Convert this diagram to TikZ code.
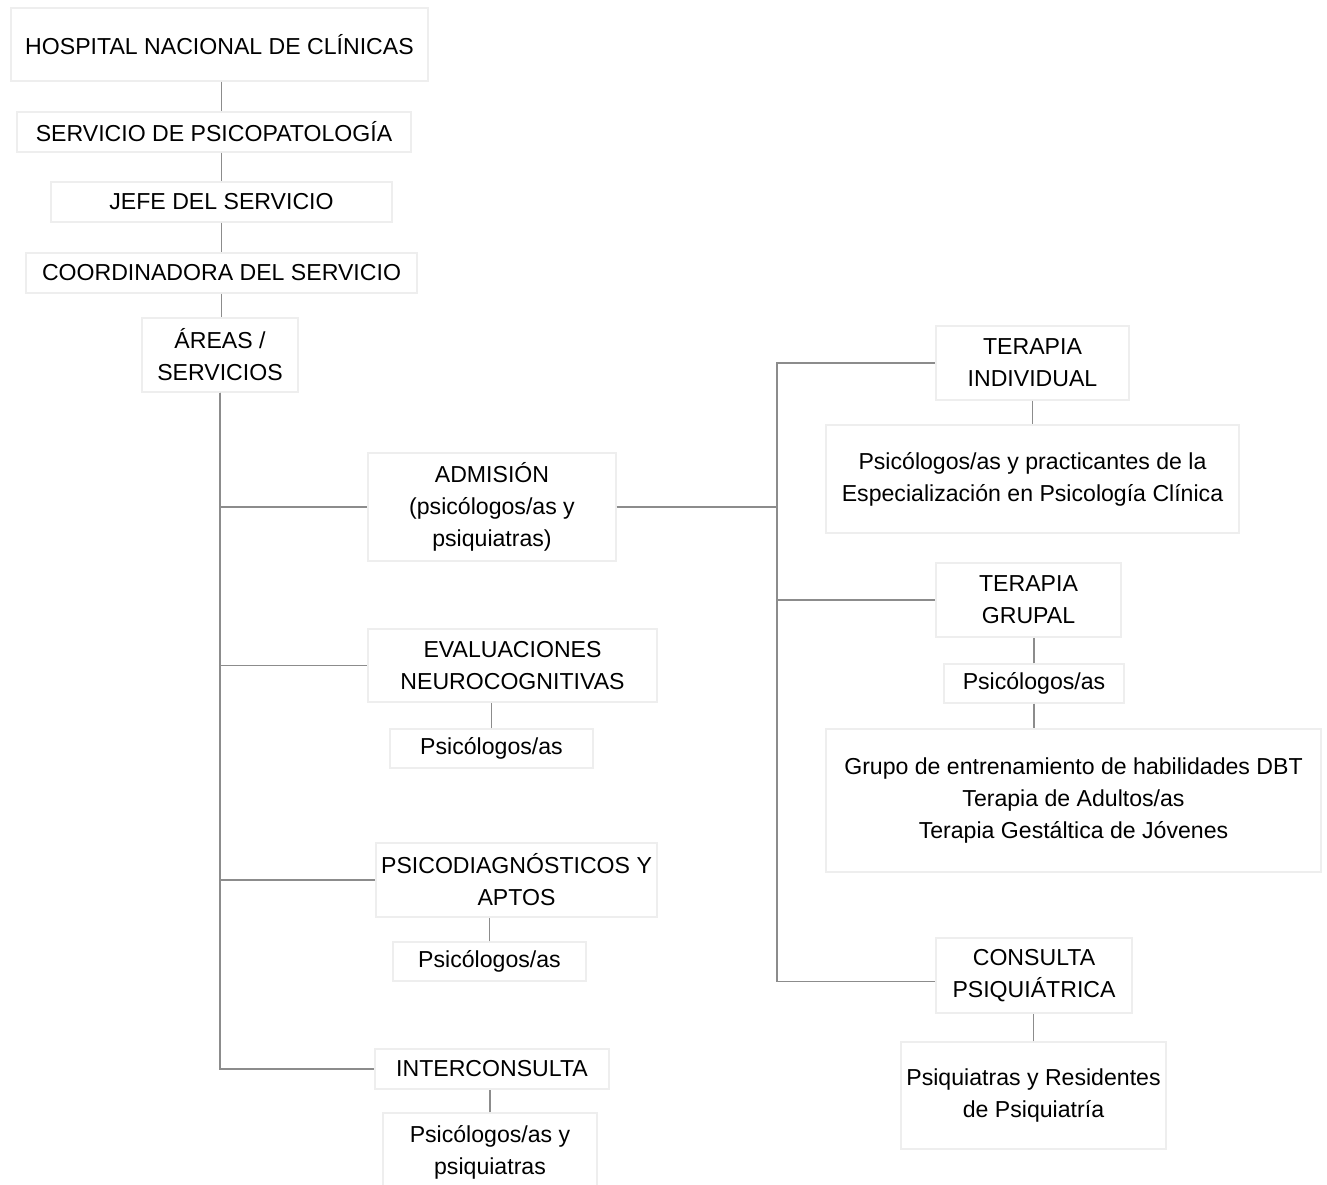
\documentclass[tikz,border=0pt]{standalone}
\usepackage{fontspec}
\setmainfont{Liberation Sans}
\usetikzlibrary{positioning}
\definecolor{boxline}{RGB}{238,238,238}
\definecolor{linkgray}{RGB}{140,140,140}

\tikzset{
  unit/.style={draw=boxline,line width=0.6pt,align=center,inner sep=0pt,
    font=\fontsize{11.55}{16}\selectfont},
  wh/.style 2 args={minimum width=#1*0.5pt,minimum height=#2*0.5pt},
  link/.style={draw=linkgray,line width=0.7pt}
}

\begin{document}
\begin{tikzpicture}[x=0.5pt,y=-0.5pt]
        \useasboundingbox (0,0) rectangle (1327,1184);
        \node[unit,wh={417}{73}] (hosp) at (219.5,44.5) {HOSPITAL NACIONAL DE CLÍNICAS};
        \node[unit,wh={394}{40}] (serv) at (214,132) {SERVICIO DE PSICOPATOLOGÍA};
        \node[unit,wh={341}{40}] (jefe) at (221.5,202) {JEFE DEL SERVICIO};
        \node[unit,wh={391}{40}] (coord) at (221.5,273) {COORDINADORA DEL SERVICIO};
        \node[unit,wh={156}{74}] (areas) at (220,355) {ÁREAS /\\SERVICIOS};

        \node[unit,wh={248}{108}] (adm) at (492,507) {ADMISIÓN\\(psicólogos/as y\\psiquiatras)};
        \node[unit,wh={289}{73}] (eval) at (512.5,665.5) {EVALUACIONES\\NEUROCOGNITIVAS};
        \node[unit,wh={203}{39}] (evalp) at (491.5,748.5) {Psicólogos/as};
        \node[unit,wh={281}{74}] (psico) at (516.5,880) {PSICODIAGNÓSTICOS Y\\APTOS};
        \node[unit,wh={193}{39}] (psicop) at (489.5,961.5) {Psicólogos/as};
        \node[unit,wh={234}{40}] (inter) at (492,1069) {INTERCONSULTA};
        \node[unit,wh={214}{78}] (interp) at (490,1152) {Psicólogos/as y\\psiquiatras};

        \node[unit,wh={193}{74}] (tind) at (1032.5,363) {TERAPIA\\INDIVIDUAL};
        \node[unit,wh={413}{108}] (tindp) at (1032.5,479) {Psicólogos/as y practicantes de la\\Especialización en Psicología Clínica};
        \node[unit,wh={185}{74}] (tgrp) at (1028.5,600) {TERAPIA\\GRUPAL};
        \node[unit,wh={180}{39}] (tgrpp) at (1034,683.5) {Psicólogos/as};
        \node[unit,wh={495}{143}] (tgrpl) at (1073.5,800.5) {Grupo de entrenamiento de habilidades DBT\\Terapia de Adultos/as\\Terapia Gestáltica de Jóvenes};
        \node[unit,wh={196}{75}] (cpsq) at (1034,975.5) {CONSULTA\\PSIQUIÁTRICA};
        \node[unit,wh={265}{107}] (cpsqp) at (1033.5,1095.5) {Psiquiatras y Residentes\\de Psiquiatría};

        \draw[link] (hosp.south -| jefe) -- (serv.north -| jefe);
        \draw[link] (serv.south -| jefe) -- (jefe.north);
        \draw[link] (jefe.south) -- (coord.north);
        \draw[link] (coord.south) -- (coord.south |- areas.north);

        \draw[link] (areas.south) |- (inter.west);
        \draw[link] (areas.south) |- (adm.west);
        \draw[link] (areas.south) |- (eval.west);
        \draw[link] (areas.south) |- (psico.west);

        \draw[link] (evalp.north) -- (evalp.north |- eval.south);
        \draw[link] (psicop.north) -- (psicop.north |- psico.south);
        \draw[link] (interp.north) -- (interp.north |- inter.south);

        \coordinate (rbus) at (777,507);
        \draw[link] (adm.east) -- (rbus);
        \draw[link] (rbus) |- (tind.west);
        \draw[link] (rbus) |- (tgrp.west);
        \draw[link] (rbus) |- ([yshift=-3pt]cpsq.west);

        \draw[link] (tind.south) -- (tind.south |- tindp.north);
        \draw[link] (tgrpp.north) -- (tgrpp.north |- tgrp.south);
        \draw[link] (tgrpp.south) -- (tgrpp.south |- tgrpl.north);
        \draw[link] (cpsqp.north) -- (cpsqp.north |- cpsq.south);
      \end{tikzpicture}
\end{document}
